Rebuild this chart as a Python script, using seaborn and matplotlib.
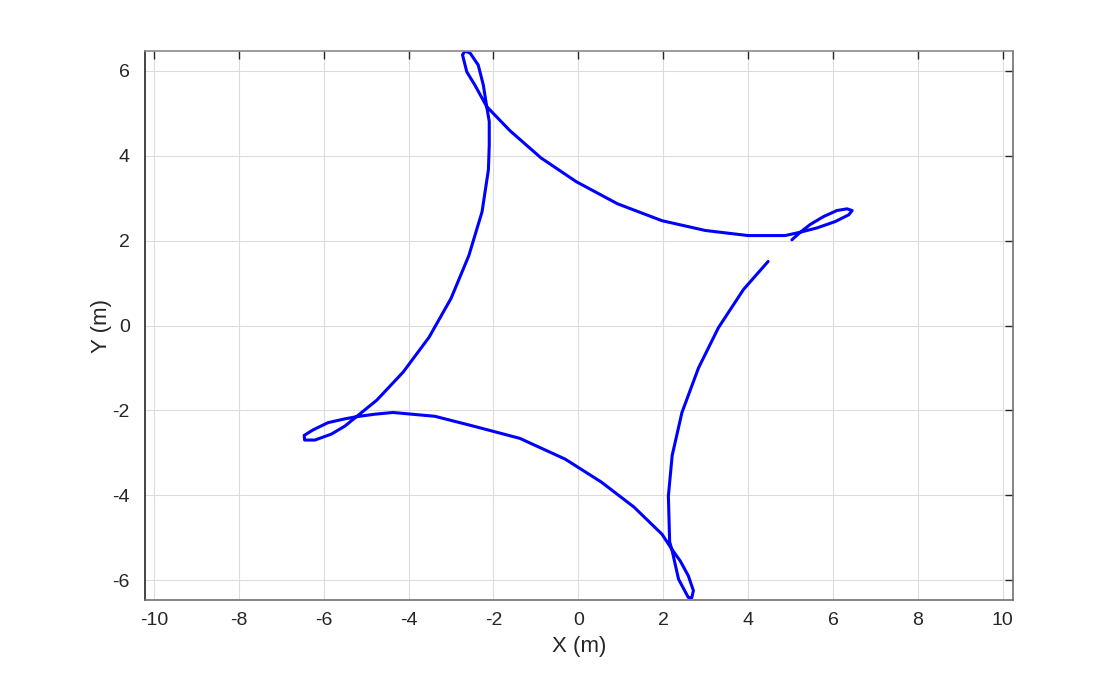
import numpy as np
import pandas as pd
import matplotlib
matplotlib.use("Agg")
import matplotlib.pyplot as plt
import seaborn as sns

# path points (m), in drawing order
x_m = [4.47, 3.89, 3.30, 2.83, 2.44, 2.21, 2.12, 2.15, 2.20, 2.36, 2.59, 2.67, 2.71, 2.59, 2.40, 2.20,
       1.97, 1.31, 0.54, -0.31, -1.38, -2.44, -3.38, -4.37, -4.79, -5.23, -5.50, -5.90, -6.25, -6.46,
       -6.45, -6.21, -5.82, -5.50, -5.23, -4.75, -4.13, -3.52, -3.00, -2.58, -2.27, -2.12, -2.10, -2.10,
       -2.16, -2.24, -2.36, -2.55, -2.67, -2.73, -2.63, -2.44, -2.16, -1.61, -0.88, -0.05, 0.92, 1.97,
       2.99, 4.00, 4.87, 5.23, 5.62, 6.05, 6.37, 6.45, 6.33, 6.09, 5.78, 5.46, 5.23, 5.03]
y_m = [1.51, 0.85, -0.05, -1.00, -2.05, -3.06, -4.02, -5.10, -5.27, -5.98, -6.41, -6.42, -6.25, -5.90, -5.55, -5.27,
       -4.92, -4.28, -3.69, -3.15, -2.66, -2.38, -2.14, -2.05, -2.09, -2.15, -2.20, -2.29, -2.46, -2.59,
       -2.70, -2.70, -2.56, -2.37, -2.15, -1.76, -1.10, -0.28, 0.64, 1.65, 2.68, 3.67, 4.26, 4.81,
       5.16, 5.67, 6.14, 6.42, 6.47, 6.38, 5.98, 5.67, 5.16, 4.59, 3.95, 3.39, 2.87, 2.47,
       2.24, 2.12, 2.12, 2.20, 2.30, 2.45, 2.61, 2.71, 2.75, 2.71, 2.57, 2.38, 2.20, 2.02]

x_ticks = list(range(-10, 11, 2))
y_ticks = list(range(-6, 7, 2))

df = pd.DataFrame({"x": x_m, "y": y_m})

sns.set_style("white")
plt.rcParams["font.family"] = ["Liberation Sans", "DejaVu Sans"]
plt.rcParams["axes.unicode_minus"] = False

fig = plt.figure(figsize=(11.19, 6.74), dpi=100)
ax = fig.add_axes([0.1296, 0.1098, 0.7757, 0.8145])

sns.lineplot(data=df, x="x", y="y", sort=False, estimator=None, color="#0000ff", linewidth=2.2, ax=ax)

ax.set_xlim(-10.21, 10.24)
ax.set_ylim(-6.47, 6.47)
ax.set_xticks(x_ticks)
ax.set_yticks(y_ticks)
ax.grid(True, color="#dcdcdc", linewidth=0.8)
ax.set_axisbelow(True)
ax.tick_params(direction="in", length=6, width=1, colors="#262626", labelsize=14,
               top=True, right=True)
ax.tick_params(axis="x", pad=9)
ax.tick_params(axis="y", pad=11)
for side in ["left", "bottom", "top", "right"]:
    ax.spines[side].set_visible(True)
    ax.spines[side].set_linewidth(1.2)
ax.spines["left"].set_color("#262626")
ax.spines["bottom"].set_color("#707070")
ax.spines["top"].set_color("#8a8a8a")
ax.spines["right"].set_color("#707070")

ax.set_xlabel("X (m)", fontsize=16, color="#262626", labelpad=5)
ax.set_ylabel("Y (m)", fontsize=16, color="#262626", labelpad=0)

fig.savefig("out.png", dpi=100, facecolor="white")
